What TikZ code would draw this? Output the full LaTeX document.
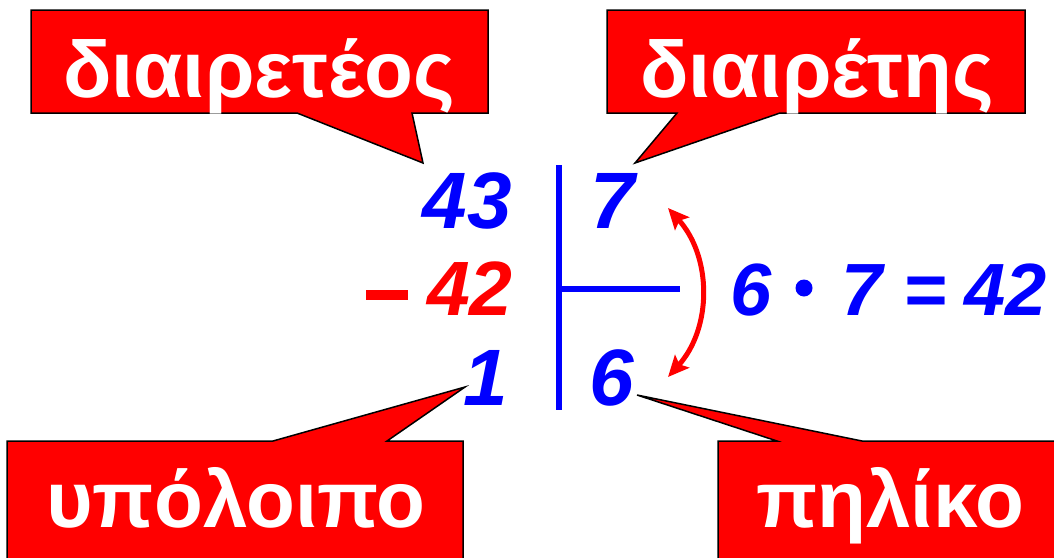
\documentclass[tikz,border=0pt]{standalone}
\usepackage{fontspec}
\setmainfont{Liberation Sans}
\newfontfamily\cfont{Liberation Sans}
\usetikzlibrary{arrows.meta}
\definecolor{pblue}{RGB}{0,0,255}
\definecolor{pred}{RGB}{255,0,0}
\begin{document}
\begin{tikzpicture}[x=1pt,y=-1pt,
  num/.style={inner sep=0pt, font=\fontsize{80}{96}\selectfont\bfseries\itshape, text=pblue},
  enum/.style={inner sep=0pt, font=\fontsize{74}{90}\selectfont\bfseries\itshape, text=pblue},
  rnum/.style={inner sep=0pt, font=\fontsize{77}{90}\selectfont\bfseries\itshape, text=pred},
  callout/.style={fill=pred, draw=black, line width=1.5pt, line join=miter},
  ctext/.style={inner sep=0pt, text=white, font=\cfont\bfseries\fontsize{80}{90}\selectfont, anchor=base},
  bar/.style={draw=pblue, line width=6pt},
  swap/.style={draw=pred, line width=5pt, {Stealth[length=21pt,width=19pt,inset=4pt]}-{Stealth[length=21pt,width=19pt,inset=4pt]}},
]
\useasboundingbox (0,0) rectangle (1054,557);
\clip (0,0) rectangle (1054,557);
% pointer tips
\coordinate (t1) at (423,163);
\coordinate (t2) at (635,163);
\coordinate (t3) at (465,387);
\coordinate (t4) at (637,395);
% callouts
\draw[callout] (31,10) -- (488,10) -- (488,113) -- (412,113) -- (t1) -- (297,113) -- (31,113) -- cycle;
\draw[callout] (607,10) -- (1025,10) -- (1025,113) -- (780,113) -- (t2) -- (677,113) -- (607,113) -- cycle;
\draw[callout] (7,441) -- (273,441) -- (t3) -- (387,441) -- (463,441) -- (463,575) -- (7,575) -- cycle;
\draw[callout] (718,441) -- (777,441) -- (t4) -- (862,441) -- (1070,441) -- (1070,575) -- (718,575) -- cycle;
\node[ctext] (dividend) at (259,97) {διαιρετέος};
\node[ctext] (divisor) at (817,97) {διαιρέτης};
\node[ctext] (remainder) at (236,527) {υπόλοιπο};
\node[ctext] (quotient) at (890,527) {πηλίκο};
% division layout
\coordinate (vtop) at (559,165);
\coordinate (vbot) at (559,410);
\coordinate (hleft) at (559,289);
\coordinate (hright) at (680,289);
\draw[bar] (vtop) -- (vbot);
\draw[bar] (hleft) -- (hright);
\node[num, anchor=base east] (n43) at (512,228) {43};
\node[num, anchor=base west] (n7) at (590,228) {7};
\node[rnum, anchor=base east] (n42) at (513,315) {42};
\node[fill=pred, minimum width=42pt, minimum height=10pt, inner sep=0pt] (minus) at (387,295) {};
\node[num, anchor=base east] (n1) at (508,405) {1};
\node[num, anchor=base west] (n6) at (589,405) {6};
% swap arrow
\coordinate (atop) at (668,208);
\coordinate (abot) at (668,377);
\draw[swap] (atop) to[bend left=42] (abot);
% equation
\node[enum, anchor=base west] (e6) at (730,315) {6};
\node[circle, fill=pblue, minimum size=17pt, inner sep=0pt] (edot) at (804,288) {};
\node[enum, anchor=base west] (e7) at (841,315) {7};
\node[enum, anchor=base] (eeq) at (925,315) {=};
\node[enum, anchor=base east] (e42) at (1047,315) {42};
\end{tikzpicture}
\end{document}
